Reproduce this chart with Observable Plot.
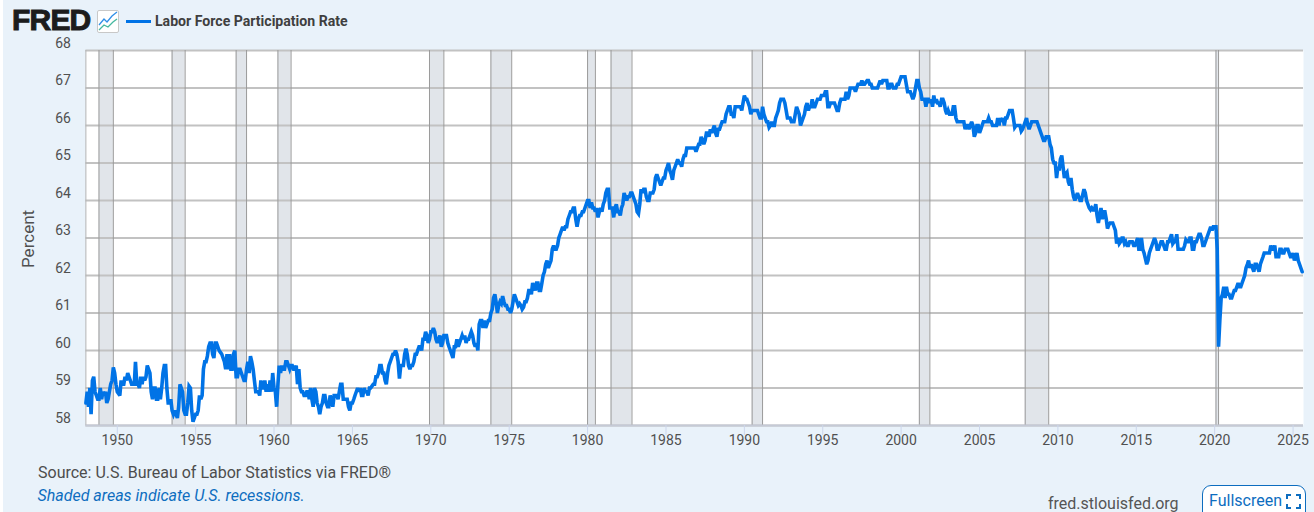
<!DOCTYPE html>
<html>
<head>
<meta charset="utf-8">
<script src="https://cdn.jsdelivr.net/npm/d3@7"></script>
<script src="https://cdn.jsdelivr.net/npm/@observablehq/plot@0.6"></script>
<style>
html,body{margin:0;padding:0;background:#fff;overflow:hidden}
#page{position:absolute;left:3px;top:0;width:1311px;height:512px;background:#e9f2fa;font-family:Roboto,sans-serif;overflow:hidden}
#chart{position:absolute;left:-3px;top:30px}
#chart svg{display:block;background:transparent}
.abs{position:absolute;white-space:nowrap}
#logo{left:9px;top:2px;font:900 30px/36px "Liberation Sans",sans-serif;color:#1c1c1c;letter-spacing:-.8px;-webkit-text-stroke:1px #1c1c1c}
#icon{left:94px;top:10px}
#swatch{left:123px;top:19.5px;width:25px;height:3px;background:#0073e6}
#title{left:152px;top:12.5px;font:700 14.1px/16px Roboto,sans-serif;color:#3f3f3f}
#source{left:35px;top:463px;font:16px/20px Roboto,sans-serif;color:#4d4d4d}
#note{left:34.5px;top:486px;font:italic 16px/20px Roboto,sans-serif;color:#0d6dbf}
#site{left:1045px;top:494px;font:16px/20px Roboto,sans-serif;color:#555}
#btn{left:1199px;top:485px;width:104px;height:40px;border:1px solid #0d6dbf;border-radius:9px;background:#fff;box-sizing:border-box;font:16px/30px Roboto,sans-serif;color:#0d6dbf;padding-left:6px}
#btn svg{position:absolute;left:83px;top:8px}
</style>
</head>
<body>
<div id="page">
  <div id="chart"></div>
  <div class="abs" id="logo">FRED</div>
  <svg class="abs" id="icon" width="22" height="23" viewBox="0 0 22 23">
    <rect x=".5" y=".5" width="21" height="22" rx="1.5" fill="#fff" stroke="#c8c8c8"/>
    <path d="M2 15 L7 9 L10 12 L15 6 L20 2" fill="none" stroke="#2f8fe8" stroke-width="1.3"/>
    <path d="M2 20 L7 15 L11 17 L16 12 L20 9" fill="none" stroke="#45b8a0" stroke-width="1.3"/>
  </svg>
  <div class="abs" id="swatch"></div>
  <div class="abs" id="title">Labor Force Participation Rate</div>
  <div class="abs" id="source">Source: U.S. Bureau of Labor Statistics via FRED®</div>
  <div class="abs" id="note">Shaded areas indicate U.S. recessions.</div>
  <div class="abs" id="site">fred.stlouisfed.org</div>
  <div class="abs" id="btn">Fullscreen
    <svg width="15" height="15" viewBox="0 0 15 15" fill="none" stroke="#0d6dbf" stroke-width="2"><path d="M1 5V1H5M10 1H14V5M14 10V14H10M5 14H1V10"/></svg>
  </div>
</div>
<script>
const firstMonth = "1948-01-01";
const participationRate = [
58.6,58.9,58.5,59.0,58.3,59.2,59.3,58.9,58.8,58.7,58.7,59.0,
58.7,58.9,58.8,58.9,58.6,58.7,58.9,59.1,59.2,59.55,59.4,59.1,
58.9,58.85,58.8,59.2,59.1,59.1,59.3,59.2,59.4,59.3,59.2,59.1,
59.1,59.1,59.7,59.1,59.1,59.0,59.3,59.1,59.3,59.2,59.3,59.6,
59.5,59.4,58.9,58.7,59.0,59.0,58.7,58.7,59.0,58.7,59.0,59.4,
59.6,59.6,59.0,58.6,58.6,58.7,58.4,58.3,58.4,58.3,58.2,58.5,
59.1,59.0,58.9,58.4,58.3,58.3,58.6,59.05,59.0,58.4,58.1,58.2,
58.3,58.3,58.4,58.8,58.7,58.8,59.5,59.7,59.7,59.85,60.1,60.2,
60.2,59.9,59.8,60.2,60.2,60.1,60.0,59.95,59.9,59.8,59.7,59.5,
59.9,59.5,59.9,59.5,59.5,59.9,60.0,59.3,59.3,59.5,59.5,59.4,
59.3,59.2,59.2,59.5,59.7,59.4,59.85,59.7,59.5,59.2,58.9,58.9,
58.9,58.8,59.2,59.0,59.0,59.2,58.9,59.1,58.9,59.2,58.9,59.4,
59.0,58.9,58.5,59.1,59.6,59.4,59.6,59.5,59.5,59.7,59.7,59.6,
59.5,59.6,59.6,59.5,59.5,59.6,59.1,59.5,59.0,58.9,58.9,58.8,
58.8,58.9,58.9,58.7,59.0,58.7,58.5,59.0,58.9,58.6,58.5,58.3,
58.5,58.6,58.8,58.8,58.6,58.5,58.5,58.8,58.7,58.5,58.8,58.8,
58.8,58.7,58.9,59.1,59.1,58.7,58.7,58.7,58.7,58.5,58.4,58.6,
58.6,58.7,58.8,58.9,59.0,58.9,59.0,58.8,58.8,59.0,58.9,58.9,
58.8,59.0,59.0,59.05,59.1,59.1,59.3,59.3,59.4,59.6,59.6,59.4,
59.4,59.2,59.1,59.4,59.6,59.7,59.8,59.9,59.9,60.0,59.9,59.7,
59.25,59.6,59.6,59.6,59.9,60.05,59.9,59.6,59.5,59.6,59.6,59.7,
59.9,59.9,60.0,60.1,60.1,60.0,60.3,60.3,60.5,60.4,60.2,60.3,
60.5,60.5,60.6,60.5,60.3,60.2,60.3,60.4,60.1,60.2,60.4,60.4,
60.4,60.2,60.1,60.0,59.9,59.8,60.1,60.1,60.3,60.1,60.2,60.3,
60.4,60.3,60.4,60.2,60.3,60.3,60.4,60.5,60.4,60.2,60.1,60.2,
60.0,60.7,60.8,60.8,60.6,60.8,60.6,60.7,60.8,60.8,61.0,61.1,
61.4,61.5,61.3,61.0,61.2,61.3,61.25,61.45,61.3,61.2,61.2,61.1,
61.1,61.0,61.1,61.3,61.5,61.4,61.3,61.2,61.25,61.2,61.1,61.15,
61.3,61.3,61.4,61.6,61.6,61.5,61.8,61.7,61.6,61.8,61.8,61.6,
61.6,61.8,62.0,62.1,62.3,62.4,62.2,62.3,62.4,62.7,62.8,62.7,
62.7,62.8,63.0,63.1,63.2,63.3,63.2,63.3,63.3,63.5,63.6,63.7,
63.7,63.8,63.8,63.5,63.3,63.5,63.6,63.6,63.7,63.7,63.8,63.9,
64.0,64.0,63.8,63.95,63.8,63.8,63.7,63.8,63.55,63.7,63.8,63.7,
63.9,64.0,64.2,64.3,64.3,63.8,63.8,63.8,63.55,63.8,63.9,63.7,
63.7,63.6,63.8,63.9,64.2,64.1,64.0,64.1,64.1,64.2,64.2,64.1,
64.0,63.9,63.7,63.65,63.9,64.3,64.2,64.3,64.3,64.1,64.0,64.0,
64.2,64.2,64.2,64.3,64.6,64.7,64.6,64.5,64.4,64.5,64.6,64.6,
64.8,64.9,65.0,64.8,64.7,64.55,64.8,64.9,65.0,65.1,65.0,65.0,
64.9,65.1,65.2,65.2,65.4,65.4,65.4,65.4,65.4,65.4,65.4,65.3,
65.4,65.5,65.5,65.7,65.6,65.5,65.6,65.8,65.8,65.7,65.9,65.8,
65.9,66.0,65.8,65.7,65.9,65.9,66.0,66.1,66.1,66.1,66.3,66.4,
66.5,66.5,66.3,66.3,66.2,66.5,66.5,66.5,66.5,66.5,66.4,66.6,
66.8,66.7,66.7,66.6,66.5,66.3,66.4,66.4,66.4,66.4,66.4,66.3,
66.2,66.2,66.5,66.3,66.2,66.1,66.1,65.95,66.0,66.1,66.0,66.0,
66.2,66.3,66.4,66.6,66.7,66.7,66.7,66.6,66.4,66.2,66.2,66.2,
66.1,66.1,66.1,66.3,66.5,66.4,66.3,66.0,66.1,66.2,66.3,66.5,
66.6,66.4,66.5,66.5,66.7,66.5,66.5,66.6,66.7,66.7,66.7,66.8,
66.8,66.8,66.9,66.9,66.5,66.5,66.6,66.6,66.6,66.6,66.5,66.4,
66.4,66.6,66.7,66.7,66.7,66.7,66.9,66.7,66.8,67.0,67.0,67.0,
67.0,66.9,67.0,67.1,67.1,67.1,67.2,67.1,67.1,67.15,67.2,67.2,
67.1,67.1,67.0,67.0,67.0,67.0,67.0,67.1,67.2,67.1,67.2,67.2,
67.2,67.2,67.0,67.0,67.1,67.1,67.0,67.0,67.0,67.1,67.1,67.2,
67.3,67.3,67.3,67.3,67.1,66.9,66.9,66.9,66.8,66.7,66.8,67.0,
67.2,67.2,67.0,66.9,66.7,66.7,66.7,66.5,66.7,66.7,66.6,66.7,
66.5,66.8,66.6,66.7,66.6,66.6,66.5,66.7,66.7,66.6,66.4,66.3,
66.4,66.3,66.3,66.3,66.5,66.5,66.2,66.1,66.1,66.1,66.1,66.1,
66.1,65.9,66.0,66.0,65.9,66.0,66.1,66.0,65.7,65.8,66.0,66.0,
65.8,65.9,66.0,66.1,66.1,66.1,66.1,66.2,66.1,66.1,66.0,66.0,
66.0,66.0,66.2,66.0,66.2,66.1,66.2,66.0,66.2,66.2,66.3,66.4,
66.4,66.4,66.2,65.95,66.0,66.0,66.0,66.0,65.85,65.9,66.0,66.1,
66.2,66.0,65.9,66.0,66.1,66.1,66.1,66.1,66.1,66.0,65.9,65.8,
65.7,65.6,65.6,65.7,65.7,65.7,65.5,65.4,65.1,65.0,65.0,64.6,
64.9,64.8,65.1,65.2,64.9,64.6,64.7,64.75,64.5,64.4,64.6,64.3,
64.1,64.0,64.1,64.2,64.1,64.0,64.0,64.15,64.3,64.2,64.0,63.9,
63.8,63.75,63.8,63.75,63.75,63.9,63.6,63.4,63.6,63.8,63.5,63.7,
63.7,63.5,63.25,63.35,63.4,63.4,63.4,63.3,63.2,62.85,63.0,62.85,
62.9,63.0,63.0,62.85,62.9,62.8,62.8,62.9,62.9,62.9,62.8,62.8,
62.9,63.0,62.7,62.7,63.0,62.7,62.6,62.45,62.3,62.4,62.6,62.7,
62.8,62.9,63.0,62.9,62.7,62.7,62.8,62.9,62.9,62.8,62.7,62.7,
62.9,62.9,63.0,63.1,62.85,62.9,62.9,63.1,62.7,62.7,62.7,62.7,
62.7,62.8,62.95,62.9,62.9,63.0,63.0,62.7,62.7,62.9,62.9,63.0,
63.1,63.1,63.0,62.8,62.8,62.9,63.0,63.1,63.2,63.3,63.2,63.3,
63.3,63.3,62.7,60.1,60.8,61.4,61.5,61.7,61.4,61.7,61.5,61.5,
61.4,61.4,61.5,61.6,61.6,61.7,61.8,61.7,61.7,61.8,61.9,62.0,
62.2,62.3,62.4,62.2,62.3,62.2,62.1,62.3,62.3,62.2,62.1,62.3,
62.4,62.5,62.6,62.6,62.6,62.6,62.6,62.8,62.7,62.7,62.8,62.5,
62.5,62.5,62.7,62.7,62.6,62.6,62.7,62.7,62.7,62.6,62.5,62.5,
62.6,62.4,62.5,62.6,62.4,62.3,62.2,62.1
];
const recessionStart = ["1948-11-01","1953-07-01","1957-08-01","1960-04-01","1969-12-01","1973-11-01","1980-01-01","1981-07-01","1990-07-01","2001-03-01","2007-12-01","2020-02-01"];
const recessionEnd   = ["1949-10-01","1954-05-01","1958-04-01","1961-02-01","1970-11-01","1975-03-01","1980-07-01","1982-11-01","1991-03-01","2001-11-01","2009-06-01","2020-04-01"];
const yearTicks = [1950,1955,1960,1965,1970,1975,1980,1985,1990,1995,2000,2005,2010,2015,2020,2025];
const percentTicks = [58,59,60,61,62,63,64,65,66,67,68];
const lastDate = "2025-09-01";

const series = participationRate.map((v, i) => ({date: d3.utcMonth.offset(new Date(firstMonth), i), value: v}));
const recessions = recessionStart.map((s, i) => ({start: new Date(s), end: new Date(recessionEnd[i])}));
const textColor = "#505050";

const chart = Plot.plot({
  width: 1314, height: 415,
  marginTop: 20, marginBottom: 20, marginLeft: 85.4, marginRight: 11,
  style: {fontFamily: "Roboto, sans-serif", fontSize: "14px", background: "transparent", overflow: "visible"},
  x: {type: "utc", domain: [new Date(firstMonth), new Date(lastDate)]},
  y: {domain: [58, 68]},
  marks: [
    Plot.frame({fill: "#fff", stroke: "none"}),
    Plot.rect(recessions, {x1: "start", x2: "end", y1: 58, y2: 68, fill: "#e1e5ea"}),
    Plot.gridY(percentTicks, {stroke: "#c2c2c2", strokeWidth: 2, strokeOpacity: 1}),
    Plot.ruleX(recessions, {x: "start", y1: 58, y2: 68, stroke: "#9a9a9a", strokeWidth: 1}),
    Plot.ruleX(recessions, {x: "end", y1: 58, y2: 68, stroke: "#9a9a9a", strokeWidth: 1}),
    Plot.ruleX([new Date(firstMonth)], {y1: 58, y2: 68, stroke: "#b4b4b4", strokeWidth: 1}),
    Plot.ruleY([58], {stroke: "#c5cad6", strokeWidth: 2}),
    Plot.axisY(percentTicks, {
      tickSize: 0, tickPadding: 15, dy: -7, fill: textColor, fontSize: 14,
      label: null
    }),
    Plot.axisX(yearTicks.map(y => new Date(Date.UTC(y, 0, 1))), {
      tickSize: 10, tickPadding: 0, stroke: "#ccd6eb", strokeOpacity: 1,
      tickFormat: d3.utcFormat("%Y"), textStroke: "none", fill: textColor, fontSize: 14,
      label: null
    }),
    Plot.line(series, {x: "date", y: "value", stroke: "#0073e6", strokeWidth: 3.6, strokeLinejoin: "miter", strokeMiterlimit: 3, curve: "linear"}),
    Plot.text(["Percent"], {frameAnchor: "left", dx: -57, dy: 30, rotate: -90, fill: textColor, fontSize: 17})
  ]
});
document.getElementById("chart").appendChild(chart);
</script>
</body>
</html>
